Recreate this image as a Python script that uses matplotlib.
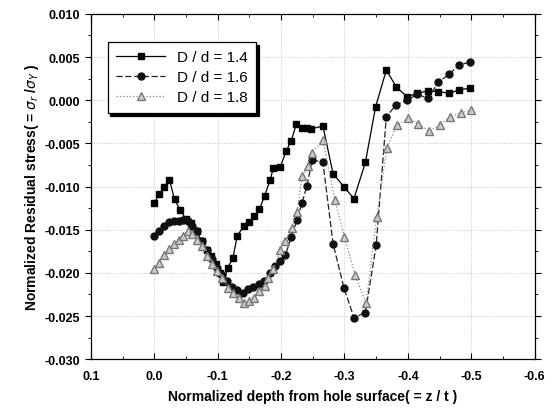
import numpy as np
import matplotlib
matplotlib.use('Agg')
import matplotlib.pyplot as plt
from matplotlib.ticker import MultipleLocator

plt.rcParams['font.family'] = ['Liberation Sans', 'DejaVu Sans']

### Data
# D/d = 1.4 (squares)
x14 = [0.0, -0.008, -0.016, -0.024, -0.032, -0.041, -0.050, -0.058, -0.067, -0.075,
       -0.083, -0.090, -0.097, -0.103, -0.109, -0.116, -0.124, -0.131, -0.141, -0.150,
       -0.158, -0.166, -0.174, -0.183, -0.188, -0.199, -0.208, -0.216, -0.224, -0.233,
       -0.241, -0.248, -0.266, -0.282, -0.300, -0.315, -0.333, -0.349, -0.366, -0.382,
       -0.399, -0.415, -0.432, -0.448, -0.465, -0.481, -0.498]
y14 = [-0.0119, -0.0109, -0.0100, -0.0092, -0.0115, -0.0127, -0.0138, -0.0142, -0.0152, -0.0163,
       -0.0173, -0.0181, -0.0190, -0.0200, -0.0211, -0.0194, -0.0183, -0.0157, -0.0146, -0.0141,
       -0.0134, -0.0126, -0.0111, -0.0092, -0.0078, -0.0077, -0.0059, -0.0047, -0.0028, -0.0032,
       -0.0032, -0.0033, -0.0030, -0.0085, -0.0101, -0.0114, -0.0072, -0.0008, 0.0035, 0.0015,
       0.0004, 0.0008, 0.0011, 0.0010, 0.0008, 0.0012, 0.0014]

# D/d = 1.6 (circles)
x16 = [0.0, -0.008, -0.016, -0.023, -0.031, -0.039, -0.046, -0.054, -0.059, -0.067,
       -0.075, -0.083, -0.091, -0.099, -0.107, -0.115, -0.123, -0.131, -0.140, -0.148,
       -0.156, -0.165, -0.173, -0.183, -0.191, -0.199, -0.207, -0.216, -0.225, -0.233,
       -0.241, -0.249, -0.266, -0.282, -0.299, -0.315, -0.333, -0.350, -0.366, -0.382,
       -0.399, -0.415, -0.432, -0.448, -0.465, -0.481, -0.498]
y16 = [-0.0157, -0.0152, -0.0146, -0.0141, -0.0140, -0.0140, -0.0139, -0.0140, -0.0146, -0.0152,
       -0.0163, -0.0173, -0.0184, -0.0194, -0.0202, -0.0210, -0.0216, -0.0220, -0.0223, -0.0219,
       -0.0216, -0.0213, -0.0210, -0.0200, -0.0192, -0.0186, -0.0179, -0.0159, -0.0139, -0.0119,
       -0.0099, -0.0069, -0.0072, -0.0166, -0.0217, -0.0252, -0.0246, -0.0168, -0.0019, -0.0005,
       0.0000, 0.0007, 0.0002, 0.0021, 0.0030, 0.0041, 0.0044]

# D/d = 1.8 (triangles)
x18 = [0.0, -0.007, -0.015, -0.023, -0.031, -0.039, -0.046, -0.054, -0.059, -0.067,
       -0.075, -0.083, -0.091, -0.099, -0.107, -0.117, -0.125, -0.133, -0.142, -0.150,
       -0.158, -0.166, -0.174, -0.180, -0.188, -0.199, -0.207, -0.217, -0.225, -0.233,
       -0.242, -0.249, -0.266, -0.285, -0.300, -0.317, -0.334, -0.351, -0.367, -0.383,
       -0.400, -0.416, -0.433, -0.450, -0.467, -0.484, -0.500]
y18 = [-0.0196, -0.0188, -0.0179, -0.0172, -0.0167, -0.0162, -0.0157, -0.0152, -0.0155, -0.0162,
       -0.0169, -0.0181, -0.0190, -0.0198, -0.0206, -0.0217, -0.0223, -0.0229, -0.0235, -0.0233,
       -0.0229, -0.0221, -0.0215, -0.0206, -0.0196, -0.0173, -0.0163, -0.0148, -0.0130, -0.0088,
       -0.0076, -0.0061, -0.0046, -0.0116, -0.0158, -0.0203, -0.0235, -0.0135, -0.0055, -0.0029,
       -0.0021, -0.0027, -0.0036, -0.0029, -0.0019, -0.0015, -0.0011]

labels = ['D / d = 1.4', 'D / d = 1.6', 'D / d = 1.8']

### Plot
fig = plt.figure(figsize=(5.57, 4.14), dpi=100)
ax = fig.add_axes([0.163, 0.130, 0.797, 0.834])

ax.plot(x14, y14, color='black', lw=0.9, ls='-', marker='s', ms=5,
        mfc='black', mec='black', label=labels[0])
ax.plot(x16, y16, color='#222222', lw=0.9, ls=(0, (5, 2)), marker='o', ms=5,
        mfc='#111111', mec='#111111', label=labels[1])
ax.plot(x18, y18, color='#888888', lw=0.9, ls=':', marker='^', ms=5.5,
        mfc='#cccccc', mec='#777777', label=labels[2])

ax.set_xlim(0.1, -0.6)
ax.set_ylim(-0.030, 0.010)
ax.xaxis.set_major_locator(MultipleLocator(0.1))
ax.xaxis.set_minor_locator(MultipleLocator(0.05))
ax.yaxis.set_major_locator(MultipleLocator(0.005))
ax.yaxis.set_minor_locator(MultipleLocator(0.0025))
ax.xaxis.set_major_formatter(plt.FuncFormatter(lambda v, p: f'{v:.1f}'))
ax.yaxis.set_major_formatter(plt.FuncFormatter(lambda v, p: f'{v:.3f}'))

ax.grid(True, which='major', ls=':', lw=0.6, color='#bbbbbb')
ax.tick_params(axis='both', which='major', labelsize=9, length=4, width=0.8)
ax.tick_params(axis='both', which='minor', length=2.5, width=0.6)
ax.tick_params(axis='y', which='both', direction='out', right=True)
ax.tick_params(axis='x', which='both', direction='in', top=True)
ax.tick_params(axis='x', which='major', pad=8)
for lab in ax.get_xticklabels() + ax.get_yticklabels():
    lab.set_fontweight('bold')
for sp in ax.spines.values():
    sp.set_linewidth(0.9)

ax.set_xlabel('Normalized depth from hole surface( = z / t )', fontsize=10, fontweight='bold', labelpad=5)
ax.set_ylabel(r'Normalized Residual stress( = $\sigma_r$ /$\sigma_Y$ )', fontsize=10, fontweight='bold', labelpad=3)

leg = ax.legend(loc='upper left', bbox_to_anchor=(0.038, 0.919), borderaxespad=0,
                fancybox=False, edgecolor='black', framealpha=1, fontsize=11,
                shadow={'color': 'black', 'alpha': 1}, handlelength=3.2,
                borderpad=0.55, labelspacing=0.4)
leg.get_frame().set_linewidth(0.9)

fig.savefig('out.png', dpi=100)
